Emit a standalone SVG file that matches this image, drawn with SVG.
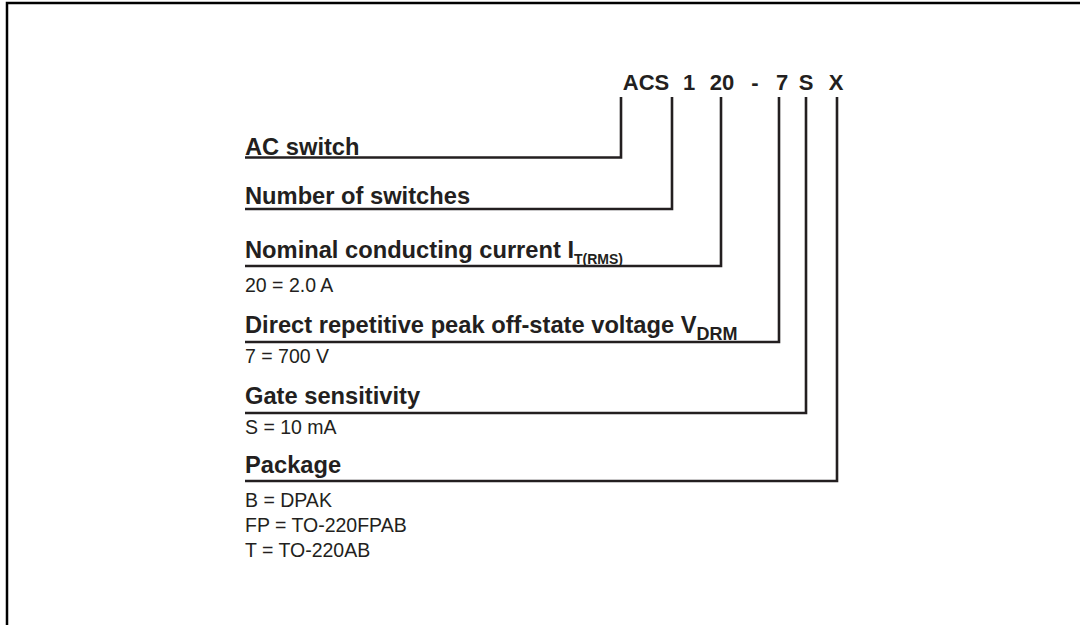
<svg xmlns="http://www.w3.org/2000/svg" width="1080" height="625" viewBox="0 0 1080 625">
<style>
.b{font-family:"Liberation Sans",Arial,Helvetica,sans-serif;font-weight:bold;fill:#231f20}
.r{font-family:"Liberation Sans",Arial,Helvetica,sans-serif;fill:#231f20}
.lbl{font-size:23.7px}
.val{font-size:19.5px}
.hd{font-size:22px}
.sub1{font-size:14px}
.sub2{font-size:18px}
.ln{fill:none;stroke:#231f20;stroke-width:2.6}
</style>
<rect width="1080" height="625" fill="#fff"/>
<path d="M7,625 V3 H1080" fill="none" stroke="#000" stroke-width="2.5"/>
<g id="code">
<text class="b hd" x="646" y="90" text-anchor="middle">ACS</text>
<text class="b hd" x="689" y="90" text-anchor="middle">1</text>
<text class="b hd" x="722" y="90" text-anchor="middle">20</text>
<text class="b hd" x="755" y="90" text-anchor="middle">-</text>
<text class="b hd" x="782" y="90" text-anchor="middle">7</text>
<text class="b hd" x="806" y="90" text-anchor="middle">S</text>
<text class="b hd" x="836" y="90" text-anchor="middle">X</text>
</g>
<g id="connectors">
<path class="ln" d="M245,157.5 H621 V97"/>
<path class="ln" d="M245,209 H672 V97"/>
<path class="ln" d="M245,266 H721 V97"/>
<path class="ln" d="M245,342 H779 V97"/>
<path class="ln" d="M245,413 H806 V97"/>
<path class="ln" d="M245,481 H837 V97"/>
</g>
<g id="ac-switch">
<text class="b lbl" x="245" y="155">AC switch</text>
</g>
<g id="number-of-switches">
<text class="b lbl" x="245" y="204">Number of switches</text>
</g>
<g id="nominal-current">
<text class="b lbl" x="245" y="258">Nominal conducting current I<tspan class="sub1" dy="6">T(RMS)</tspan></text>
<text class="r val" x="245" y="292">20 = 2.0 A</text>
</g>
<g id="voltage">
<text class="b lbl" x="245" y="333">Direct repetitive peak off-state voltage V<tspan class="sub2" dy="7">DRM</tspan></text>
<text class="r val" x="245" y="363">7 = 700 V</text>
</g>
<g id="gate-sensitivity">
<text class="b lbl" x="245" y="404">Gate sensitivity</text>
<text class="r val" x="245" y="434">S = 10 mA</text>
</g>
<g id="package">
<text class="b lbl" x="245" y="473">Package</text>
<text class="r val" x="245" y="507">B = DPAK</text>
<text class="r val" x="245" y="532">FP = TO-220FPAB</text>
<text class="r val" x="245" y="557">T = TO-220AB</text>
</g>
</svg>
